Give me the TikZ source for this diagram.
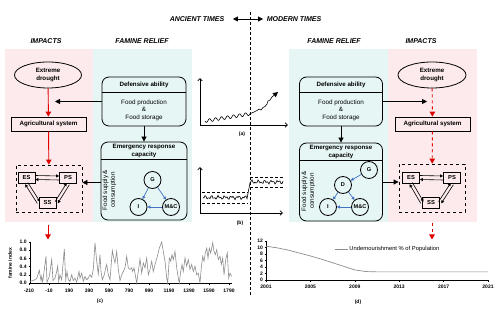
\documentclass[tikz,border=0pt]{standalone}
\usepackage{fontspec}
\setmainfont{Liberation Sans}
\usetikzlibrary{calc,arrows.meta,shapes.geometric}

\definecolor{pinkbg}{HTML}{FDEAEC}
\definecolor{cyanbg}{HTML}{E6F6F5}
\definecolor{redarr}{HTML}{E00000}
\definecolor{bluearr}{HTML}{4472C4}
\definecolor{linegray}{HTML}{8C8C8C}

\begin{document}
\begin{tikzpicture}[x=1pt, y=-1pt, line width=0.8pt,
  tip/.style={-{Triangle[length=5pt,width=5pt]}},
  smalltip/.style={line width=0.6pt, -{Triangle[length=3pt,width=3pt]}},
  redtip/.style={redarr, line width=0.9pt, -{Triangle[length=5pt,width=5.5pt]}},
  bluetip/.style={bluearr, line width=0.7pt, -{Triangle[length=3pt,width=3pt]}},
  axistip/.style={line width=0.7pt, -{Straight Barb[length=2.5pt,width=4.5pt]}},
  head/.style={font=\fontsize{7}{8}\selectfont\bfseries\itshape},
  boxtxt/.style={font=\fontsize{6.3}{7.6}\selectfont, align=center, inner sep=0pt},
  boldtxt/.style={font=\fontsize{6.2}{7.6}\selectfont\bfseries, align=center},
  sysbox/.style={draw, font=\fontsize{5.8}{7}\selectfont\bfseries, inner sep=0pt,
    minimum width=17, minimum height=11},
  relbox/.style={draw, rounded corners=7pt, inner sep=0pt},
  agent/.style={draw, circle, minimum size=17, inner sep=0pt,
    font=\fontsize{5.6}{7}\selectfont\bfseries},
  ticklab/.style={font=\fontsize{5}{6}\selectfont\bfseries, inner sep=1pt},
  band/.style={dashed, dash pattern=on 3pt off 2pt, line width=0.7pt}]
  \useasboundingbox (0,0) rectangle (500,312);

  % backgrounds
  \fill[pinkbg] (5,49) rectangle (92.5,222);
  \fill[cyanbg] (92.5,49) rectangle (192,222);
  \fill[cyanbg] (289,49) rectangle (388,222);
  \fill[pinkbg] (388,49) rectangle (477,222);

  % time divider
  \draw[dashed, dash pattern=on 3pt off 2pt, line width=0.9pt] (250,12) -- (250,296);
  \node[head] (ancient) at (197,19) {ANCIENT TIMES};
  \node[head] (modern) at (294,19) {MODERN TIMES};
  \coordinate (split) at (250,19);
  \draw[tip] (split) -- ([xshift=5pt]ancient.east);
  \draw[tip] (split) -- (modern.west);

  \node[head] (impL) at (46,41) {IMPACTS};
  \node[head] (relL) at (142,41) {FAMINE RELIEF};
  \node[head] (relR) at (334,41) {FAMINE RELIEF};
  \node[head] (impR) at (421,41) {IMPACTS};

  % ---- ancient side ----
  \node[draw, ellipse, minimum width=67, minimum height=26, inner sep=0pt, boldtxt]
    (droughtL) at (48,75) {Extreme\\drought};
  \node[draw, minimum width=75, minimum height=14, inner sep=0pt, boldtxt]
    (agriL) at (48.5,124) {Agricultural system};
  \node[draw, dashed, minimum width=66, minimum height=47] (sysL) at (49,188.5) {};
  \node[sysbox] (esL) at (26.5,177.5) {ES};
  \node[sysbox] (psL) at (68,178) {PS};
  \node[sysbox] (ssL) at (47.5,202.5) {SS};

  \node[relbox, minimum width=84, minimum height=49] (defL) at (144,101.5) {};
  \draw ([yshift=-16pt]defL.north west) -- ([yshift=-16pt]defL.north east);
  \node[boldtxt] (defLtitle) at ([yshift=-8.5pt]defL.north) {Defensive ability};
  \node[boxtxt] (defLtext) at (144,110) {Food production\\\&\\Food storage};

  \node[relbox, minimum width=86, minimum height=78] (emgL) at (144,181) {};
  \draw ([yshift=-18pt]emgL.north west) -- ([yshift=-18pt]emgL.north east);
  \node[boldtxt, inner sep=0pt] (emgLtitle) at ([yshift=-9.5pt]emgL.north)
    {Emergency response\\capacity};
  \node[boxtxt] (supL) at (109.5,190)
    {\rotatebox{90}{\begin{tabular}{@{}c@{}}Food supply \&\\consumption\end{tabular}}};
  \node[agent] (gL) at (152.5,180) {G};
  \node[agent] (iL) at (138.5,207) {I};
  \node[agent] (mcL) at (171,207) {M\&C};
  \draw[bluetip] (gL) -- (iL);
  \draw[bluetip] (gL) -- (mcL);
  \draw[bluetip] (mcL) -- (iL);

  \coordinate (defLend) at (55,101.5);
  \coordinate (linkL) at (101,182.5);
  \draw[tip] (defL.west) -- (defLend);
  \draw[tip] (defL.south) -- (emgL.north);
  \draw[tip] (linkL) -- (linkL -| sysL.east);

  \draw[redtip] (droughtL) -- (agriL);
  \draw[redtip] (agriL) -- (sysL);
  \coordinate (outL1) at (48,225);
  \coordinate (outL2) at (48,239.5);
  \draw[redtip] (outL1) -- (outL2);

  % ES/PS/SS links
  \draw[smalltip] ([yshift=2pt]esL.east) -- ([yshift=2pt]psL.west);
  \draw[smalltip] ([yshift=-2pt]psL.west) -- ([yshift=-2pt]esL.east);
  \draw[smalltip] ($(esL.south)!1.6pt!90:(ssL.west)$) -- ($(ssL.west)!1.6pt!-90:(esL.south)$);
  \draw[smalltip] ($(ssL.west)!1.6pt!90:(esL.south)$) -- ($(esL.south)!1.6pt!-90:(ssL.west)$);
  \draw[smalltip] ($(psL.south)!1.6pt!90:(ssL.east)$) -- ($(ssL.east)!1.6pt!-90:(psL.south)$);
  \draw[smalltip] ($(ssL.east)!1.6pt!90:(psL.south)$) -- ($(psL.south)!1.6pt!-90:(ssL.east)$);

  % ---- modern side ----
  \node[draw, ellipse, minimum width=68, minimum height=26, inner sep=0pt, boldtxt]
    (droughtR) at (432,75) {Extreme\\drought};
  \node[draw, minimum width=75, minimum height=14, inner sep=0pt, boldtxt]
    (agriR) at (432.5,124) {Agricultural system};
  \node[draw, dashed, minimum width=66, minimum height=48] (sysR) at (432,188) {};
  \node[sysbox] (esR) at (411,177.5) {ES};
  \node[sysbox] (psR) at (452,178) {PS};
  \node[sysbox] (ssR) at (431,202.5) {SS};

  \node[relbox, minimum width=83, minimum height=49] (defR) at (341,101.5) {};
  \draw ([yshift=-16pt]defR.north west) -- ([yshift=-16pt]defR.north east);
  \node[boldtxt] (defRtitle) at ([yshift=-8.5pt]defR.north) {Defensive ability};
  \node[boxtxt] (defRtext) at (341,110) {Food production\\\&\\Food storage};

  \node[relbox, minimum width=83, minimum height=78] (emgR) at (341,182) {};
  \draw ([yshift=-18pt]emgR.north west) -- ([yshift=-18pt]emgR.north east);
  \node[boldtxt, inner sep=0pt] (emgRtitle) at ([yshift=-9.5pt]emgR.north)
    {Emergency response\\capacity};
  \node[boxtxt] (supR) at (308.5,191)
    {\rotatebox{90}{\begin{tabular}{@{}c@{}}Food supply \&\\consumption\end{tabular}}};
  \node[agent] (gR) at (369,170) {G};
  \node[agent] (dR) at (343,185) {D};
  \node[agent] (iR) at (328,207) {I};
  \node[agent] (mcR) at (360,207) {M\&C};
  \draw[bluetip] (gR) -- (dR);
  \draw[bluetip] (dR) -- (iR);
  \draw[bluetip] (dR) -- (mcR);
  \draw[bluetip] (mcR) -- (iR);

  \coordinate (defRend) at (427,101.5);
  \coordinate (linkR) at (382.5,182);
  \draw[tip] (defR.east) -- (defRend);
  \draw[tip] (defR.south) -- (emgR.north);
  \draw[tip] (linkR) -- (linkR -| sysR.west);

  \draw[redtip, dashed] (droughtR) -- (agriR);
  \draw[redtip, dashed] (agriR) -- (sysR);
  \coordinate (outR1) at (432,223);
  \coordinate (outR2) at (432,239.5);
  \draw[redtip, dashed] (outR1) -- (outR2);

  \draw[smalltip] ([yshift=2pt]esR.east) -- ([yshift=2pt]psR.west);
  \draw[smalltip] ([yshift=-2pt]psR.west) -- ([yshift=-2pt]esR.east);
  \draw[smalltip] ($(esR.south)!1.6pt!90:(ssR.west)$) -- ($(ssR.west)!1.6pt!-90:(esR.south)$);
  \draw[smalltip] ($(ssR.west)!1.6pt!90:(esR.south)$) -- ($(esR.south)!1.6pt!-90:(ssR.west)$);
  \draw[smalltip] ($(psR.south)!1.6pt!90:(ssR.east)$) -- ($(ssR.east)!1.6pt!-90:(psR.south)$);
  \draw[smalltip] ($(ssR.east)!1.6pt!90:(psR.south)$) -- ($(psR.south)!1.6pt!-90:(ssR.east)$);

  % ---- sketch (a) ----
  \coordinate (aO) at (200,125);
  \coordinate (aY) at (200,78);
  \coordinate (aX) at (288,125);
  \draw[axistip] (aO) -- (aY);
  \draw[axistip] (aO) -- (aX);
  \draw[line width=0.6pt] plot[domain=205:250, samples=90, smooth]
    (\x, {121 - 0.16*(\x-205) + 1.6*sin(60*(\x-205))});
  \draw[line width=0.6pt, -{Triangle[length=5pt,width=5pt]}] (250,113.8) -- (254,112) -- (257,110.5)
    -- (259,109) -- (261,110) -- (263,107.5) -- (265,106.5) -- (267,104) -- (268,101)
    -- (270,100) -- (272,97) -- (278,92);
  \node[ticklab] (aLab) at (242,134) {(a)};

  % ---- sketch (b) ----
  \coordinate (bO) at (200,213);
  \coordinate (bY) at (200,167);
  \coordinate (bX) at (283,213);
  \draw[axistip] (bO) -- (bY);
  \draw[axistip] (bO) -- (bX);
  \draw[band] (202,192) -- (248,192);
  \draw[band] (202,203) -- (248,203);
  \draw[band] (250,177) -- (284,177);
  \draw[band] (250,187) -- (284,187);
  \draw[line width=0.6pt] plot[domain=203:247, samples=45]
    (\x, {197.5 + 2.2*sin(85*(\x-200))*cos(31*(\x-200))})
    -- plot[domain=250:283, samples=34] (\x, {182 + 2.2*sin(85*(\x-200))*cos(31*(\x-200))});
  \node[ticklab] (bLab) at (240,223) {(b)};

  % ---- chart (c) ----
  \begin{scope}[shift={(0,283)}, y=41pt]
    \draw[line width=0.6pt] (30,0) -- (30,1);
    \draw[line width=0.6pt] (30,0) -- (232,0);
    \foreach \v [count=\i] in {0.0,0.2,0.4,0.6,0.8,1.0} {
      \draw[line width=0.5pt] (28.5,{(\i-1)*0.2}) -- (30,{(\i-1)*0.2});
      \node[ticklab, anchor=east] (cy\i) at (28,{(\i-1)*0.2}) {\v};
    }
    \foreach \yr [count=\i] in {-210,-10,190,390,590,790,990,1190,1390,1590,1790} {
      \draw[line width=0.5pt] ({9+20*\i},0) -- ({9+20*\i},-0.04);
      \node[ticklab] (cx\i) at ({9+20*\i},-0.2) {\yr};
    }
    \node[ticklab] (cyLab) at (10,0.48) {\rotatebox{90}{famine index}};
    \draw[linegray, line width=0.6pt] plot coordinates {
      (30.0,0.04) (33.3,0.06) (36.7,0.11) (39.3,0.31) (41.0,0.06) (41.7,0.16) (42.7,0.02)
      (46.0,0.65) (47.0,0.02) (49.3,0.16) (51.7,0.57) (53.0,0.06) (55.0,0.12) (56.7,0.28)
      (57.7,0.41) (58.7,0.04) (60.0,0.20) (61.7,0.08) (64.3,0.83) (65.7,0.08) (67.0,0.28)
      (68.3,0.08) (70.0,0.04) (71.7,0.20) (73.3,0.06) (75.0,0.12) (76.7,0.02) (79.0,0.28)
      (80.0,0.12) (81.7,0.24) (83.3,0.04) (85.0,0.16) (86.7,0.08) (88.3,0.12) (90.0,0.20)
      (91.7,0.14) (93.3,0.33) (95.0,0.98) (96.7,0.53) (98.3,0.22) (100.0,0.69) (101.0,0.28)
      (102.3,0.08) (104.3,0.20) (105.7,0.37) (106.7,0.45) (108.3,0.20) (110.0,0.08)
      (112.3,0.79) (113.7,0.61) (115.0,0.49) (116.7,0.77) (118.3,0.33) (120.0,0.06)
      (121.7,0.20) (123.3,0.28) (125.0,0.37) (126.7,0.65) (128.3,0.37) (130.0,0.33)
      (131.7,0.37) (132.7,0.28) (134.0,0.37) (135.0,0.24) (136.7,0.0) (138.3,0.28)
      (140.0,0.59) (141.7,0.24) (143.3,0.49) (145.0,0.37) (146.7,0.61) (148.3,0.20)
      (150.0,0.33) (151.7,0.53) (153.3,0.28) (155.0,0.45) (157.3,0.65) (159.3,0.85)
      (161.7,1.0) (163.3,0.77) (165.0,0.53) (166.7,0.12) (167.7,0.0) (169.3,0.61)
      (170.7,0.53) (172.0,0.69) (173.3,0.57) (175.0,0.77) (176.7,0.37) (178.3,0.12)
      (179.3,0.0) (180.7,0.28) (182.0,0.45) (183.3,0.28) (185.0,0.61) (186.7,0.41)
      (188.3,0.57) (190.0,0.33) (191.7,0.45) (193.3,0.28) (195.0,0.41) (196.7,0.20)
      (198.3,0.24) (200.0,0.0) (201.3,0.37) (202.7,0.65) (204.0,0.53) (205.3,0.73)
      (206.7,0.85) (208.0,0.61) (209.3,0.85) (210.7,0.73) (212.7,0.98) (214.0,0.77)
      (215.3,0.69) (216.7,0.81) (218.3,0.57) (220.0,0.65) (221.3,0.45) (222.7,0.61)
      (224.0,0.20) (225.0,0.41) (226.0,0.61) (227.3,0.73) (228.7,0.12) (230.0,0.24)
      (231.7,0.16)};
  \end{scope}
  \node[ticklab] (cLab) at (100,301) {(c)};

  % ---- chart (d) ----
  \begin{scope}[shift={(266,280)}, x=11.1pt, y=3.25pt]
    \draw[line width=0.6pt] (0,0) -- (0,12);
    \draw[line width=0.6pt] (0,0) -- (20,0);
    \foreach \v in {0,2,...,12} {
      \draw[line width=0.5pt] (-0.12,\v) -- (0,\v);
      \node[ticklab, anchor=east] (dy\v) at (-0.15,\v) {\v};
    }
    \foreach \yr [count=\i] in {2001,2005,2009,2013,2017,2021} {
      \draw[line width=0.5pt] ({4*(\i-1)},0) -- ({4*(\i-1)},-0.6);
      \node[ticklab] (dx\i) at ({4*(\i-1)},-2.2) {\yr};
    }
    \draw[linegray, line width=0.7pt] plot coordinates {
      (0,10.4) (1,9.9) (2,9.2) (3,8.3) (4,7.4) (5,6.4) (6,5.3) (7,4.2) (8,3.1)
      (9,2.6) (10,2.5) (20,2.5)};
  \end{scope}
  \node[font=\fontsize{5.8}{7}\selectfont, anchor=west, inner sep=1pt] (legD) at (348,249)
    {Undernourishment \% of Population};
  \coordinate (legStart) at (335,249);
  \draw[linegray, line width=0.7pt] (legStart) -- (legD.west);
  \node[ticklab] (dLab) at (358,302) {(d)};
\end{tikzpicture}
\end{document}
